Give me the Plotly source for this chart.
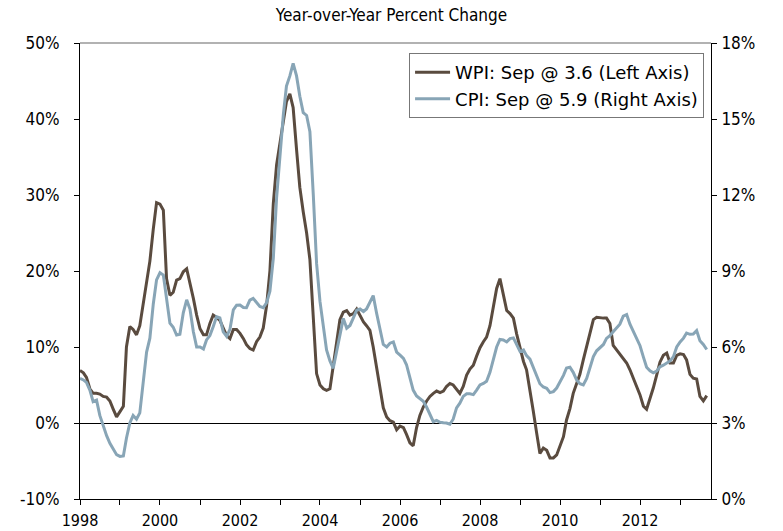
import pandas as pd
import plotly.graph_objects as go

months = pd.date_range("1998-01-01", periods=189, freq="MS")

wpi = [
    6.9, 6.6, 6.0, 4.5, 3.9, 3.9, 3.8, 3.5, 3.4, 2.9, 1.8, 0.8,
    1.5, 2.2, 10.0, 12.7, 12.3, 11.6, 12.8, 15.5, 18.5, 21.3, 25.5, 29.0,
    28.8, 28.0, 19.0, 16.8, 17.2, 18.8, 19.0, 19.9, 20.3, 18.5, 16.4, 14.2,
    12.4, 11.6, 11.6, 13.1, 14.2, 13.9, 13.5, 12.5, 11.5, 11.1, 12.3, 12.3,
    11.8, 11.1, 10.3, 9.8, 9.6, 10.7, 11.3, 12.5, 15.5, 20.0, 28.9, 34.0,
    36.8, 39.3, 42.3, 43.3, 41.5, 36.0, 31.0, 27.8, 25.0, 21.5, 13.0, 6.5,
    5.0, 4.5, 4.3, 4.5, 7.5, 11.0, 13.6, 14.6, 14.8, 14.2, 14.4, 15.0,
    14.2, 13.3, 12.8, 12.2, 10.0, 7.2, 4.3, 2.0, 0.8, 0.3, 0.1, -0.9,
    -0.4, -0.6, -1.5, -2.6, -3.0, -0.6, 1.0, 2.1, 2.9, 3.5, 3.9, 4.2,
    4.0, 4.2, 4.8, 5.2, 5.0, 4.4, 3.9, 4.8, 6.3, 7.1, 7.6, 8.8,
    9.9, 10.7, 11.3, 12.8, 15.2, 17.7, 19.0, 16.8, 14.8, 14.4, 13.8, 11.7,
    9.7, 8.1, 7.0, 4.4, 1.6, -1.3, -4.0, -3.3, -3.6, -4.6, -4.6, -4.2,
    -3.1, -1.8, 0.4, 1.9, 3.9, 5.1, 6.4, 8.3, 10.1, 11.8, 13.6, 13.9,
    13.8, 13.8, 13.8, 13.1, 10.2, 9.6, 9.0, 8.5, 7.9, 7.0, 6.0, 4.8,
    3.7, 2.2, 1.8, 3.2, 4.6, 6.3, 8.0, 8.9, 9.2, 7.9, 7.9, 8.9,
    9.1, 9.0, 8.3, 6.4, 5.9, 5.8, 3.5, 2.9, 3.6,
]

cpi = [
    4.76, 4.70, 4.60, 4.30, 3.84, 3.90, 3.30, 2.85, 2.50, 2.20, 1.95, 1.75,
    1.68, 1.70, 2.40, 3.00, 3.30, 3.15, 3.40, 4.70, 5.80, 6.35, 7.70, 8.65,
    8.93, 8.84, 7.90, 6.94, 6.78, 6.47, 6.50, 7.35, 7.86, 7.50, 6.60, 6.00,
    6.00, 5.92, 6.28, 6.45, 6.80, 7.20, 7.15, 6.60, 6.42, 6.70, 7.47, 7.65,
    7.66, 7.56, 7.55, 7.85, 7.92, 7.75, 7.60, 7.55, 7.75, 8.20, 9.50, 11.90,
    13.60, 15.20, 16.30, 16.70, 17.20, 16.70, 15.90, 15.25, 15.14, 14.50, 12.00, 9.30,
    7.80, 6.70, 5.88, 5.45, 5.16, 5.82, 6.54, 7.13, 6.74, 6.85, 7.15, 7.45,
    7.50, 7.40, 7.50, 7.80, 8.03, 7.33, 6.67, 6.10, 6.00, 6.15, 6.20, 5.80,
    5.68, 5.55, 5.30, 4.80, 4.30, 4.07, 3.98, 3.86, 3.62, 3.37, 3.05, 3.10,
    3.03, 3.01, 3.00, 2.95, 3.15, 3.60, 3.78, 4.05, 4.15, 4.15, 4.12, 4.30,
    4.50, 4.56, 4.65, 5.00, 5.45, 6.00, 6.30, 6.28, 6.20, 6.33, 6.36, 6.08,
    5.82, 5.88, 5.66, 5.52, 5.20, 4.90, 4.55, 4.42, 4.37, 4.20, 4.24, 4.38,
    4.62, 4.88, 5.17, 5.20, 5.00, 4.70, 4.55, 4.50, 4.76, 5.22, 5.62, 5.85,
    5.97, 6.10, 6.34, 6.45, 6.60, 6.75, 6.90, 7.22, 7.28, 6.90, 6.61, 6.38,
    6.05, 5.60, 5.20, 5.06, 4.98, 5.05, 5.22, 5.28, 5.38, 5.45, 5.62, 6.00,
    6.20, 6.35, 6.55, 6.50, 6.51, 6.65, 6.25, 6.10, 5.90,
]

year_ticks = [f"{y}-01-01" for y in range(1998, 2014)]
year_labels = [str(y) if y % 2 == 0 else "" for y in range(1998, 2014)]

left_ticks = [-10, 0, 10, 20, 30, 40, 50]
left_labels = ["-10%", "0%", "10%", "20%", "30%", "40%", "50%"]
right_ticks = [0, 3, 6, 9, 12, 15, 18]
right_labels = ["0%", "3%", "6%", "9%", "12%", "15%", "18%"]

wpi_name = "WPI: Sep @ 3.6 (Left Axis)"
cpi_name = "CPI: Sep @ 5.9 (Right Axis)"

WPI_COLOR = "#5A4B3F"
CPI_COLOR = "#88A5B6"
FONT = "DejaVu Sans Condensed, DejaVu Sans, sans-serif"
LEGEND_FONT = "DejaVu Sans, Verdana, sans-serif"

fig = go.Figure()
fig.add_trace(go.Scatter(x=months, y=wpi, name=wpi_name, mode="lines",
                         line=dict(color=WPI_COLOR, width=3), yaxis="y"))
fig.add_trace(go.Scatter(x=months, y=cpi, name=cpi_name, mode="lines",
                         line=dict(color=CPI_COLOR, width=3), yaxis="y2"))

fig.update_layout(
    width=783, height=531,
    margin=dict(l=80, r=72, t=43, b=32),
    paper_bgcolor="white", plot_bgcolor="white",
    font=dict(family=FONT, size=16, color="#000000"),
    title=dict(text="Year-over-Year Percent Change", x=0.5, xanchor="center",
               y=0.972, yanchor="middle", font=dict(family=FONT, size=17, color="#000000")),
    showlegend=True,
    legend=dict(x=0.989, y=0.978, xanchor="right", yanchor="top",
                bgcolor="white", bordercolor="#777777", borderwidth=1,
                font=dict(family=LEGEND_FONT, size=18), tracegroupgap=0, itemwidth=35),
    xaxis=dict(type="date", range=["1998-01-01", "2013-10-10"],
               tickvals=year_ticks, ticktext=year_labels,
               ticks="outside", ticklen=5, tickcolor="black",
               ticklabelstandoff=2, automargin=False,
               showline=True, linecolor="black", linewidth=1,
               showgrid=False, zeroline=False),
    yaxis=dict(range=[-10, 50], tickvals=left_ticks, ticktext=left_labels,
               ticks="outside", ticklen=5, tickcolor="black",
               tickfont=dict(size=17),
               ticklabelstandoff=11, automargin=False,
               showline=True, linecolor="black", linewidth=1,
               showgrid=False, zeroline=True, zerolinecolor="black", zerolinewidth=1),
    yaxis2=dict(range=[0, 18], tickvals=right_ticks, ticktext=right_labels,
                overlaying="y", side="right",
                ticks="outside", ticklen=5, tickcolor="black",
                tickfont=dict(size=17),
                ticklabelstandoff=1, automargin=False,
                showline=True, linecolor="black", linewidth=1,
                showgrid=False, zeroline=False),
    shapes=[dict(type="line", xref="paper", yref="paper", x0=0, x1=1, y0=1, y1=1,
                 line=dict(color="#999999", width=1.5))],
)

fig.write_html("out.html", config={"displayModeBar": False},
               post_script="document.body.style.margin='0';document.body.style.overflow='hidden';")
